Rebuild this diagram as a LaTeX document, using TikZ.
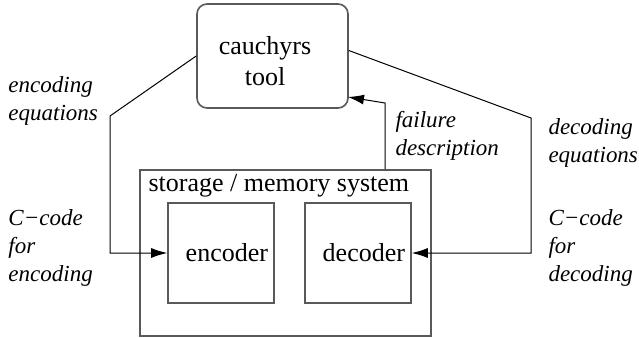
\documentclass[tikz,border=0pt]{standalone}
\usepackage{fontspec}
\setmainfont{Liberation Serif}
\usepackage{tikz}
\usetikzlibrary{positioning,arrows.meta}

\begin{document}
\begin{tikzpicture}[x=0.5pt,y=-0.5pt,->,>={Latex[length=8pt,width=5pt]},line width=0.5pt,
	toolnode/.style={rectangle,rounded corners=5pt,draw=black!65,line width=0.8pt,minimum width=75.5pt,minimum height=52pt},
	sysnode/.style={rectangle,draw=black!65,line width=0.8pt,minimum width=145.5pt,minimum height=83pt},
	unitnode/.style={rectangle,draw=black!65,line width=0.8pt,text width=47pt,align=right,inner xsep=3pt,minimum height=50pt,font=\fontsize{13}{15}\selectfont},
	plainnode/.style={align=center,font=\fontsize{13}{15.5}\selectfont},
	labelnode/.style={align=left,anchor=west,inner sep=0pt,font=\fontsize{11.5}{14}\itshape}]
		\useasboundingbox (0,0) rectangle (639,338);
		\node [toolnode] (tool) at (272.5, 56) {};
		\node [plainnode] (tooltxt) at (265, 61) {cauchyrs\\tool};
		\node [sysnode] (sys) at (285.5, 253) {};
		\node [anchor=base west,inner sep=0pt,font=\fontsize{13}{15}\selectfont] (systxt) at (148, 191) {storage / memory system};
		\node [unitnode] (enc) at (221, 253) {encoder};
		\node [unitnode] (dec) at (358, 253) {decoder};
		\coordinate (encbend) at (110, 116);
		\coordinate (decbend) at (531, 118);
		\coordinate (failbend) at (385, 103);
		\coordinate (failin) at (348, 97);
		\node [labelnode] (encEq) at (8, 101) {encoding\\equations};
		\node [labelnode] (encCode) at (8, 248) {C−code\\for\\encoding};
		\node [labelnode] (failDesc) at (395, 136) {failure\\description};
		\node [labelnode] (decEq) at (548, 143) {decoding\\equations};
		\node [labelnode] (decCode) at (548, 248) {C−code\\for\\decoding};
		\draw (tool.west) -- (encbend) |- (enc.west);
		\draw ([yshift=2.75pt]tool.east) -- (decbend) |- (dec.east);
		\draw (sys.north -| failbend) -- (failbend) -- (failin);
	\end{tikzpicture}
\end{document}
